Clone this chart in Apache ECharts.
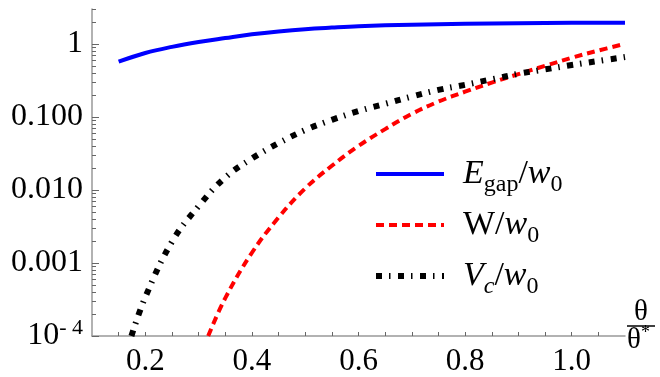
<!DOCTYPE html>
<html>
<head>
<meta charset="utf-8">
<script src="https://cdn.jsdelivr.net/npm/echarts@6/dist/echarts.min.js"></script>
<style>
  html, body { margin: 0; padding: 0; background: #fff; }
  #chart { width: 660px; height: 377px; }
</style>
</head>
<body>
<div id="chart"></div>
<script>
// theta / theta* sample points and values
const egapX = [0.15, 0.2, 0.25, 0.3, 0.35, 0.4, 0.45, 0.5, 0.55, 0.6, 0.7, 0.8, 0.9, 1.0, 1.1];
const egapY = [0.57, 0.75, 0.91, 1.06, 1.2, 1.35, 1.48, 1.59, 1.67, 1.74, 1.83, 1.88, 1.92, 1.94, 1.95];

const wX = [0.318, 0.35, 0.4, 0.45, 0.5, 0.55, 0.6, 0.65, 0.7, 0.75, 0.8, 0.85, 0.9, 0.95, 1.0, 1.05, 1.1];
const wY = [1.0e-4, 3.3e-4, 1.38e-3, 4.2e-3, 0.0105, 0.0214, 0.040, 0.068, 0.110, 0.162, 0.221, 0.295, 0.385, 0.50, 0.645, 0.81, 1.0];

const vcX = [0.174, 0.2, 0.25, 0.3, 0.35, 0.4, 0.45, 0.5, 0.55, 0.6, 0.65, 0.7, 0.75, 0.8, 0.85, 0.9, 0.95, 1.0, 1.05, 1.1];
const vcY = [1.0e-4, 3.4e-4, 1.95e-3, 6.0e-3, 0.0148, 0.0269, 0.0437, 0.066, 0.091, 0.12, 0.151, 0.19, 0.234, 0.275, 0.327, 0.389, 0.447, 0.513, 0.582, 0.66];

const yMajor = [1e-4, 1e-3, 1e-2, 0.1, 1];
const yMajorLabels = ['{b|10}{sup|- 4}', '0.001', '0.010', '0.100', '1'];

const names = ['Egap', 'W', 'Vc'];
const legendText = {
  Egap: '{i|E}{sub|gap}{n|/}{i|w}{sub|0}',
  W: '{n|W/}{i|w}{sub|0}',
  Vc: '{i|V}{isub|c}{n|/}{i|w}{sub|0}'
};

// minor ticks 2..9 per decade
const yMinor = [];
for (let e = -4; e <= 0; e++) {
  for (let m = 2; m <= 9; m++) {
    const v = m * Math.pow(10, e);
    if (v <= 3) yMinor.push(v);
  }
}

function pairs(xs, ys) {
  return xs.map((x, i) => [x, ys[i]]);
}

const serif = '"Liberation Serif", "DejaVu Serif", serif';
const chart = echarts.init(document.getElementById('chart'));
const option = {
  animation: false,
  grid: { left: 92, right: 35, top: 9, bottom: 39 },
  legend: {
    orient: 'vertical',
    left: 373,
    top: 151,
    padding: 0,
    itemWidth: 68,
    itemHeight: 1,
    itemGap: 5,
    itemStyle: { opacity: 0 },
    data: [
      { name: 'Egap', lineStyle: { width: 4 } },
      { name: 'W', lineStyle: { width: 4 } },
      { name: 'Vc', lineStyle: { width: 6 } }
    ],
    formatter: function (name) { return legendText[name]; },
    textStyle: {
      fontFamily: serif,
      fontSize: 33,
      color: '#000',
      padding: [0, 0, 0, 14],
      rich: {
        i: { fontFamily: serif, fontStyle: 'italic', fontSize: 34, color: '#000' },
        n: { fontFamily: serif, fontSize: 34, color: '#000' },
        sub: { fontFamily: serif, fontSize: 24, color: '#000', lineHeight: 10, padding: [22, 0, 0, 0] },
        isub: { fontFamily: serif, fontStyle: 'italic', fontSize: 24, color: '#000', lineHeight: 10, padding: [22, 0, 0, 0] }
      }
    }
  },
  xAxis: {
    type: 'value',
    min: 0.1,
    max: 1.1,
    interval: 0.05,
    axisLine: { lineStyle: { color: '#999', width: 1.5 } },
    axisTick: { inside: true, length: 4, lineStyle: { color: '#666', width: 1 } },
    splitLine: { show: false },
    axisLabel: {
      margin: 10,
      color: '#000',
      fontFamily: serif,
      fontSize: 31,
      showMinLabel: false,
      showMaxLabel: false,
      formatter: function (v) {
        const k = v / 0.2;
        return Math.abs(k - Math.round(k)) < 1e-6 ? v.toFixed(1) : '';
      }
    },
    name: '{num|θ}\n{bar| }\n{den|θ}{sup|*}',
    nameLocation: 'end',
    nameGap: 2,
    nameTextStyle: {
      padding: [0, 0, 20, 0],
      rich: {
        num: { fontFamily: serif, fontSize: 29, color: '#000', lineHeight: 26, align: 'center', width: 28 },
        bar: { fontSize: 1, lineHeight: 2, height: 1.5, width: 28, backgroundColor: '#000' },
        den: { fontFamily: serif, fontSize: 29, color: '#000', lineHeight: 26 },
        sup: { fontFamily: serif, fontSize: 18, color: '#000', lineHeight: 10, padding: [0, 0, 14, 0] }
      }
    }
  },
  yAxis: [
    {
      type: 'log',
      min: 1e-4,
      max: 3,
      axisLine: { show: true, lineStyle: { color: '#999', width: 1.5 } },
      axisTick: { inside: true, length: 7, customValues: yMajor, lineStyle: { color: '#666', width: 1 } },
      splitLine: { show: false },
      axisLabel: {
        margin: 9,
        color: '#000',
        fontFamily: serif,
        fontSize: 32,
        customValues: yMajor,
        formatter: function (v) {
          let best = 0;
          yMajor.forEach((m, i) => {
            if (Math.abs(Math.log10(v) - Math.log10(m)) < Math.abs(Math.log10(v) - Math.log10(yMajor[best]))) best = i;
          });
          return yMajorLabels[best];
        },
        rich: {
          b: { fontFamily: serif, fontSize: 32, color: '#000' },
          sup: { fontFamily: serif, fontSize: 22, color: '#000', lineHeight: 10, padding: [0, 0, 16, 0] }
        }
      }
    },
    {
      type: 'log',
      min: 1e-4,
      max: 3,
      position: 'left',
      axisLine: { show: false },
      axisTick: { inside: true, length: 4, customValues: yMinor, lineStyle: { color: '#666', width: 1 } },
      splitLine: { show: false },
      axisLabel: { show: false }
    }
  ],
  series: [
    {
      name: 'Egap',
      type: 'line',
      smooth: 0.4,
      symbol: 'none',
      data: pairs(egapX, egapY),
      lineStyle: { color: '#0000ff', width: 4 },
      itemStyle: { color: '#0000ff' }
    },
    {
      name: 'W',
      type: 'line',
      smooth: 0.4,
      symbol: 'none',
      data: pairs(wX, wY),
      lineStyle: { color: '#ff0000', width: 4, type: [8, 5] },
      itemStyle: { color: '#ff0000' }
    },
    {
      name: 'Vc',
      type: 'line',
      smooth: 0.4,
      symbol: 'none',
      data: pairs(vcX, vcY),
      lineStyle: { color: '#000', width: 6, type: [6, 7, 1.5, 7.5] },
      itemStyle: { color: '#000' }
    }
  ]
};
chart.setOption(option);
</script>
</body>
</html>
